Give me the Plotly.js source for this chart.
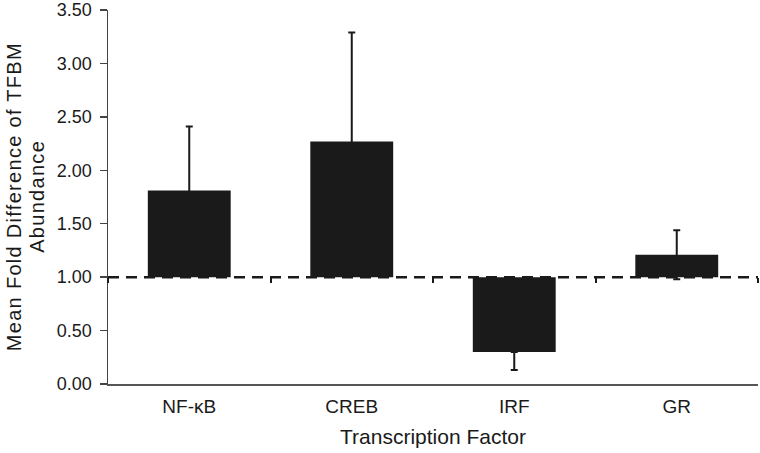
<!DOCTYPE html>
<html>
<head>
<meta charset="utf-8">
<script src="https://cdn.plot.ly/plotly-3.0.1.min.js"></script>
<style>
html,body{margin:0;padding:0;background:#fff;}
#chart{width:760px;height:453px;}
#chart .annotation-text{letter-spacing:1.3px;}
</style>
</head>
<body>
<div id="chart"></div>
<script>
// Data
const categories = ["NF-\u03baB", "CREB", "IRF", "GR"];
const baseline = 1.0;
const meanFold = [1.81, 2.27, 0.30, 1.21];   // bar ends (fold difference)
const errUpper = [0.60, 1.02, 0.00, 0.23];   // error above the bar end
const errLower = [0.60, 1.02, 0.17, 0.23];   // error below the bar end
const yTicks = [0, 0.5, 1, 1.5, 2, 2.5, 3, 3.5];
const yTitleLines = ["Mean Fold Difference of TFBM", "Abundance"];
const xTitle = "Transcription Factor";

const barColor = "#1a1a1a";
const textColor = "#1a1a1a";
const fontFam = "Liberation Sans, Arial, sans-serif";

const bars = {
  type: "bar",
  x: categories,
  y: meanFold.map(v => v - baseline),
  base: categories.map(() => baseline),
  width: 0.51,
  marker: {color: barColor, line: {width: 0}},
  hoverinfo: "skip",
  showlegend: false
};

const errs = {
  type: "scatter",
  mode: "markers",
  x: categories,
  y: meanFold,
  xaxis: "x2",
  marker: {size: 0.1, color: "rgba(0,0,0,0)"},
  error_y: {
    type: "data", symmetric: false,
    array: errUpper, arrayminus: errLower,
    color: barColor, thickness: 2, width: 3.5
  },
  hoverinfo: "skip",
  showlegend: false
};

const layout = {
  width: 760, height: 453,
  margin: {l: 108, r: 2, t: 10, b: 69},
  paper_bgcolor: "#fff", plot_bgcolor: "#fff",
  font: {family: fontFam, size: 18, color: textColor},
  showlegend: false,
  xaxis: {
    type: "category",
    range: [-0.5, 3.5],
    showline: true, linecolor: "#555", linewidth: 1.5,
    ticks: "", showgrid: false, zeroline: false,
    ticklabelstandoff: 5,
    tickfont: {size: 19, color: textColor},
    title: {text: xTitle, font: {size: 21, color: textColor}, standoff: 13}
  },
  xaxis2: {
    type: "category",
    overlaying: "x",
    anchor: "free",
    position: baseline / 3.5,
    range: [-0.5, 3.5],
    tickson: "boundaries",
    ticks: "outside", ticklen: 5, tickwidth: 2, tickcolor: textColor,
    showticklabels: false, showline: false, showgrid: false, zeroline: false
  },
  yaxis: {
    range: [0, 3.5],
    tickvals: yTicks,
    tickformat: ".2f",
    ticks: "outside", ticklen: 7, tickwidth: 1.5, tickcolor: "#444",
    ticklabelstandoff: 4,
    showline: true, linecolor: "#444", linewidth: 1.5,
    showgrid: false, zeroline: false,
    tickfont: {size: 18, color: textColor}
  },
  annotations: yTitleLines.map((t, i) => ({
    text: t, textangle: -90,
    xref: "paper", yref: "paper",
    x: (i === 0 ? -94 : -71) / 650, y: 0.5,
    xanchor: "center", yanchor: "middle",
    showarrow: false,
    font: {size: 20, color: textColor}
  })),
  shapes: [{
    type: "line", xref: "paper", yref: "y",
    x0: 0, x1: 1, y0: baseline, y1: baseline,
    line: {color: textColor, width: 2.5, dash: "11px,7px"},
    layer: "above"
  }]
};

Plotly.newPlot("chart", [bars, errs], layout, {displayModeBar: false, staticPlot: true});
</script>
</body>
</html>
